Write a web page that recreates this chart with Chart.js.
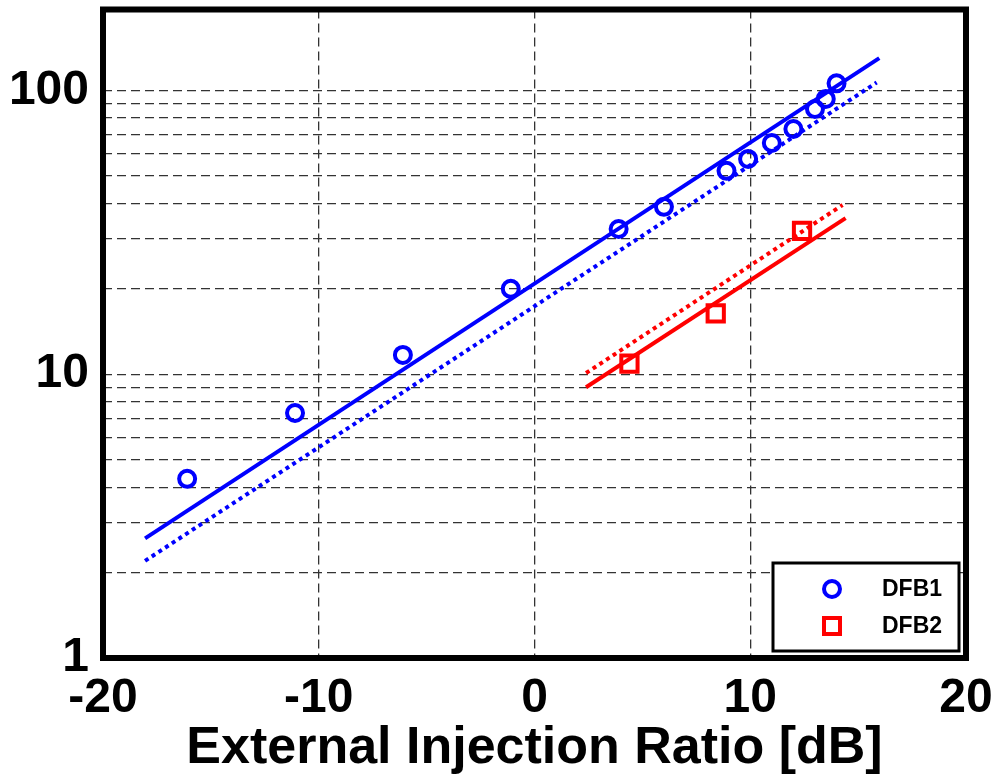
<!DOCTYPE html>
<html>
<head>
<meta charset="utf-8">
<script src="https://cdn.jsdelivr.net/npm/chart.js@4.4.1/dist/chart.umd.min.js"></script>
<style>
  html, body { margin: 0; padding: 0; background: #fff; }
  #wrap { width: 1000px; height: 780px; }
</style>
</head>
<body>
<div id="wrap"><canvas id="chart" width="1000" height="780"></canvas></div>
<script>
// measured points
const dfb1X = [-16.1, -11.1, -6.1, -1.1, 3.9, 6.0, 8.9, 9.9, 11.0, 12.0, 13.0, 13.5, 14.0];
const dfb1Y = [4.28, 7.3, 11.7, 20.0, 32.5, 38.9, 52.1, 57.4, 65.3, 73.2, 86.1, 93.4, 106];
const dfb2X = [4.4, 8.4, 12.4];
const dfb2Y = [10.9, 16.4, 32.0];

// fitted lines (end points)
const fit1SolidX = [-18.05, 15.98];
const fit1SolidY = [2.64, 130];
const fit1DotX = [-18.05, 15.86];
const fit1DotY = [2.20, 106.7];
const fit2SolidX = [2.39, 14.42];
const fit2SolidY = [9.0, 35.5];
const fit2DotX = [2.39, 14.28];
const fit2DotY = [10.1, 39.5];

const seriesNames = ['DFB1', 'DFB2'];
const xTicks = [-20, -10, 0, 10, 20];
const yLabels = [1, 10, 100];

const BLUE = '#0000ff';
const RED = '#ff0000';

function pts(xs, ys) {
    return xs.map((x, i) => ({ x: x, y: ys[i] }));
}

// thick frame + legend box inside plot
const framePlugin = {
    id: 'frame',
    afterDraw(chart) {
        const ctx = chart.ctx;
        const a = chart.chartArea;
        ctx.save();

        // legend
        const lx = 773, ly = 563, lw = 186, lh = 88;
        ctx.fillStyle = '#fff';
        ctx.fillRect(lx, ly, lw, lh);
        ctx.lineWidth = 3;
        ctx.strokeStyle = '#000';
        ctx.strokeRect(lx, ly, lw, lh);

        ctx.lineWidth = 4;
        ctx.strokeStyle = BLUE;
        ctx.beginPath();
        ctx.arc(832, 589, 8, 0, Math.PI * 2);
        ctx.stroke();
        ctx.strokeStyle = RED;
        ctx.strokeRect(824, 618, 16, 16);

        ctx.fillStyle = '#000';
        ctx.font = 'bold 23px "Liberation Sans", Arial, sans-serif';
        ctx.textAlign = 'left';
        ctx.textBaseline = 'middle';
        ctx.fillText(seriesNames[0], 882, 590);
        ctx.fillText(seriesNames[1], 882, 627);

        // frame
        ctx.lineWidth = 6;
        ctx.strokeStyle = '#000';
        ctx.strokeRect(a.left, a.top, a.right - a.left, a.bottom - a.top);
        ctx.restore();
    }
};

const ctx = document.getElementById('chart').getContext('2d');
const myChart = new Chart(ctx, {
    type: 'scatter',
    data: {
        datasets: [
            {
                label: seriesNames[0],
                data: pts(dfb1X, dfb1Y),
                pointStyle: 'circle',
                pointRadius: 8,
                borderWidth: 4,
                borderColor: BLUE,
                backgroundColor: 'rgba(0,0,0,0)',
                showLine: false
            },
            {
                label: seriesNames[1],
                data: pts(dfb2X, dfb2Y),
                pointStyle: 'rect',
                pointRadius: 11.5,
                borderWidth: 4,
                borderColor: RED,
                backgroundColor: 'rgba(0,0,0,0)',
                showLine: false
            },
            {
                label: 'fit1',
                data: pts(fit1SolidX, fit1SolidY),
                showLine: true, pointRadius: 0, borderWidth: 4,
                borderColor: BLUE
            },
            {
                label: 'fit1 dotted',
                data: pts(fit1DotX, fit1DotY),
                showLine: true, pointRadius: 0, borderWidth: 4,
                borderColor: BLUE, borderDash: [4, 4]
            },
            {
                label: 'fit2',
                data: pts(fit2SolidX, fit2SolidY),
                showLine: true, pointRadius: 0, borderWidth: 4,
                borderColor: RED
            },
            {
                label: 'fit2 dotted',
                data: pts(fit2DotX, fit2DotY),
                showLine: true, pointRadius: 0, borderWidth: 4,
                borderColor: RED, borderDash: [4, 4]
            }
        ]
    },
    options: {
        responsive: false,
        animation: false,
        layout: { autoPadding: false, padding: { top: 9.5, right: 34, left: 0, bottom: 0 } },
        plugins: {
            legend: { display: false },
            tooltip: { enabled: false }
        },
        scales: {
            x: {
                type: 'linear',
                min: -20,
                max: 20,
                afterBuildTicks: scale => {
                    scale.ticks = xTicks.map(v => ({ value: v }));
                },
                afterFit: scale => {
                    scale.height = 122;
                    scale.paddingLeft = 0;
                    scale.paddingRight = 0;
                },
                grid: { color: '#333', lineWidth: 1.3, drawTicks: false },
                border: { display: false, dash: [9, 5] },
                ticks: {
                    color: '#000',
                    padding: 12,
                    font: { family: '"Liberation Sans", Arial, sans-serif', size: 48, weight: 'bold' }
                },
                title: {
                    display: true,
                    text: 'External Injection Ratio [dB]',
                    color: '#000',
                    padding: { top: 0, bottom: 0 },
                    font: { family: '"Liberation Sans", Arial, sans-serif', size: 52, weight: 'bold' }
                }
            },
            y: {
                type: 'logarithmic',
                min: 1,
                max: 193,
                afterBuildTicks: scale => {
                    // keep 1..9, 10..90, 100 only
                    scale.ticks = scale.ticks.filter(t => {
                        const m = t.value / Math.pow(10, Math.floor(Math.log10(t.value) + 1e-9));
                        return Math.abs(m - Math.round(m)) < 1e-6 && t.value <= 100;
                    });
                },
                afterFit: scale => {
                    scale.width = 103;
                    scale.paddingTop = 0;
                    scale.paddingBottom = 0;
                },
                grid: { color: '#333', lineWidth: 1.3, drawTicks: false },
                border: { display: false, dash: [9, 5] },
                ticks: {
                    autoSkip: false,
                    color: '#000',
                    padding: 14,
                    callback: v => yLabels.includes(v) ? String(v) : '',
                    font: { family: '"Liberation Sans", Arial, sans-serif', size: 48, weight: 'bold' }
                }
            }
        }
    },
    plugins: [framePlugin]
});
</script>
</body>
</html>
